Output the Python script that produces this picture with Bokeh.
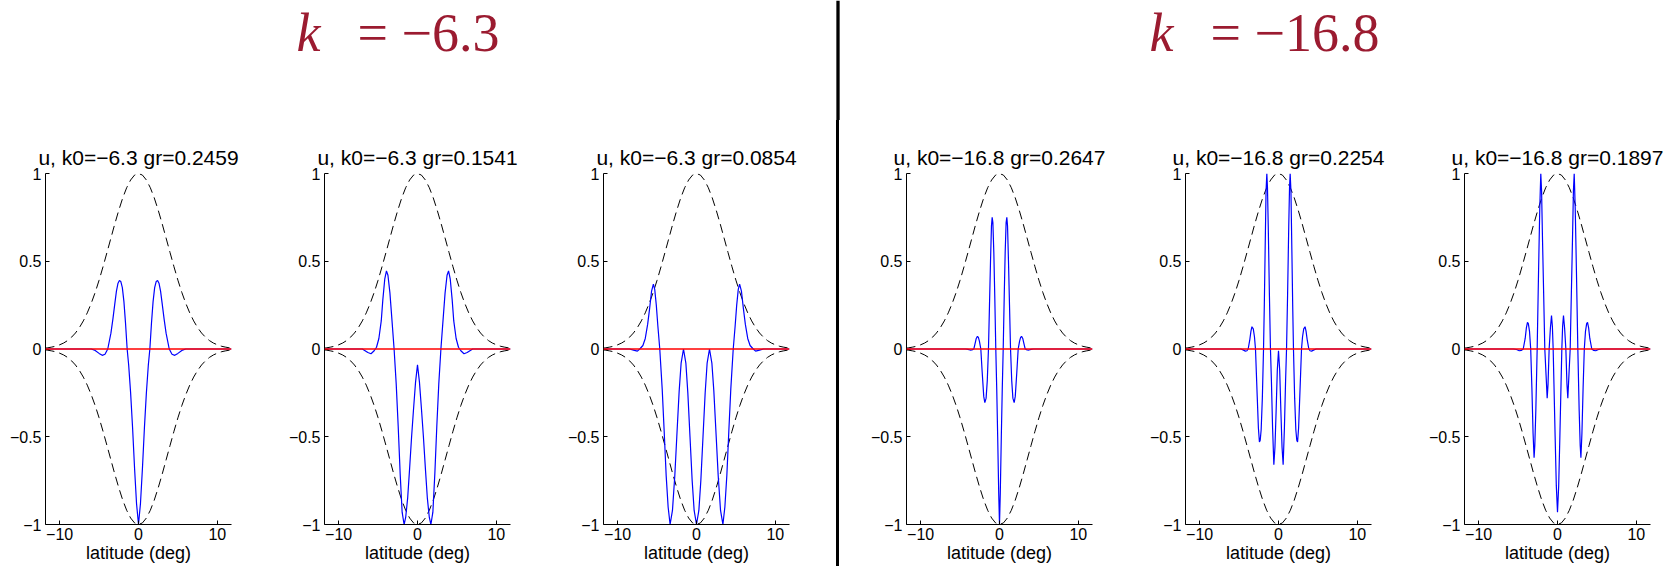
from bokeh.plotting import figure
from bokeh.layouts import row, column
from bokeh.models import (Range1d, Span, FixedTicker, CustomJSTickFormatter,
                          Spacer)
from bokeh.embed import file_html
from bokeh.resources import INLINE
from bokeh.core.properties import value

# ---------------------------------------------------------------------------
# Data: normalised zonal wind u versus latitude (symmetric about the equator,
# so only the northern half, lat >= 0, is stored and mirrored when drawn).
# ---------------------------------------------------------------------------
LAT_MAX = 11.8

# envelope (dashed), |u| bound
env_lat = [0, 0.5, 1, 1.5, 2, 2.5, 3, 3.5, 4, 4.5, 5, 5.5, 6, 6.5, 7, 7.5,
           8, 8.5, 9, 9.5, 10, 10.5, 11, 11.5, 11.8]
env_val = [1.0, 0.991, 0.963, 0.919, 0.861, 0.791, 0.714, 0.632, 0.550, 0.469,
           0.392, 0.322, 0.260, 0.206, 0.160, 0.122, 0.091, 0.067, 0.048,
           0.034, 0.024, 0.016, 0.011, 0.007, 0.005]

# k = -6.3, three modes
k1_titles = ["u, k0=\u22126.3 gr=0.2459", "u, k0=\u22126.3 gr=0.1541",
             "u, k0=\u22126.3 gr=0.0854"]

m1_lat = [0, 0.25, 0.5, 0.75, 1.0, 1.25, 1.44, 1.65, 1.85, 2.05, 2.25, 2.42,
          2.6, 2.8, 3.0, 3.25, 3.5, 3.9, 4.25, 4.6, 5.0, 5.5, 6.0, 11.8]
m1_u = [-1.0, -0.88, -0.68, -0.45, -0.25, -0.09, 0.0, 0.15, 0.27, 0.35, 0.385,
        0.39, 0.375, 0.33, 0.26, 0.17, 0.09, 0.0, -0.03, -0.036, -0.025,
        -0.008, 0.0, 0.0]

m2_lat = [0, 0.25, 0.5, 0.75, 1.0, 1.25, 1.5, 1.7, 1.95, 2.2, 2.45, 2.7, 2.97,
          3.25, 3.5, 3.75, 3.94, 4.15, 4.4, 4.6, 4.9, 5.2, 5.5, 5.9, 6.3, 7.0,
          11.8]
m2_u = [-0.09, -0.19, -0.34, -0.5, -0.68, -0.85, -0.96, -1.0, -0.93, -0.71,
        -0.44, -0.2, 0.0, 0.17, 0.32, 0.42, 0.445, 0.4, 0.28, 0.16, 0.06, 0.01,
        -0.01, -0.027, -0.02, 0.0, 0.0]

m3_lat = [0, 0.3, 0.55, 0.825, 1.1, 1.35, 1.65, 1.95, 2.2, 2.5, 2.75, 3.05,
          3.35, 3.6, 3.85, 4.1, 4.35, 4.66, 4.9, 5.1, 5.3, 5.47, 5.7, 5.95,
          6.2, 6.5, 6.8, 7.2, 7.5, 8.0, 8.5, 11.8]
m3_u = [-1.0, -0.92, -0.75, -0.5, -0.25, -0.08, 0.0, -0.08, -0.24, -0.5,
        -0.72, -0.92, -1.0, -0.9, -0.72, -0.47, -0.23, 0.0, 0.13, 0.25, 0.34,
        0.37, 0.33, 0.23, 0.14, 0.06, 0.02, 0.0, -0.012, -0.006, 0.0, 0.0]

# k = -16.8, three modes
k2_titles = ["u, k0=\u221216.8 gr=0.2647", "u, k0=\u221216.8 gr=0.2254",
             "u, k0=\u221216.8 gr=0.1897"]

m4_lat = [0, 0.1, 0.23, 0.35, 0.47, 0.6, 0.72, 0.84, 0.93, 1.02, 1.14, 1.27,
          1.4, 1.55, 1.7, 1.86, 2.0, 2.2, 2.37, 2.55, 2.68, 2.8, 2.95, 3.1,
          3.26, 3.5, 3.73, 4.0, 4.3, 11.8]
m4_u = [-1.0, -0.82, -0.5, -0.23, 0.0, 0.3, 0.55, 0.72, 0.75, 0.7, 0.5, 0.25,
        0.0, -0.18, -0.28, -0.306, -0.27, -0.13, 0.0, 0.045, 0.066, 0.072,
        0.06, 0.03, 0.0, -0.005, -0.006, -0.002, 0.0, 0.0]

m5_lat = [0, 0.15, 0.3, 0.45, 0.59, 0.75, 0.9, 1.02, 1.15, 1.3, 1.4, 1.48,
          1.58, 1.7, 1.8, 1.9, 2.05, 2.2, 2.32, 2.42, 2.55, 2.7, 2.92, 3.05,
          3.2, 3.37, 3.5, 3.65, 3.85, 4.0, 4.2, 4.5, 4.8, 11.8]
m5_u = [-0.01, -0.12, -0.35, -0.56, -0.66, -0.45, -0.18, 0.0, 0.3, 0.7, 0.92,
        1.0, 0.9, 0.55, 0.25, 0.0, -0.28, -0.46, -0.52, -0.53, -0.45, -0.27,
        0.0, 0.07, 0.115, 0.127, 0.1, 0.05, 0.0, -0.01, -0.012, -0.005, 0.0,
        0.0]

m6_lat = [0, 0.15, 0.3, 0.45, 0.55, 0.65, 0.76, 0.9, 1.06, 1.2, 1.31, 1.45,
          1.61, 1.75, 1.9, 2.02, 2.12, 2.25, 2.4, 2.58, 2.75, 2.88, 2.97, 3.1,
          3.25, 3.4, 3.55, 3.7, 3.81, 3.95, 4.1, 4.35, 4.6, 4.85, 5.2, 5.6,
          11.8]
m6_u = [-0.93, -0.78, -0.5, -0.2, 0.0, 0.13, 0.19, 0.12, 0.0, -0.2, -0.28,
        -0.15, 0.0, 0.3, 0.62, 0.9, 1.0, 0.8, 0.45, 0.0, -0.35, -0.55, -0.62,
        -0.48, -0.22, 0.0, 0.1, 0.145, 0.152, 0.12, 0.06, 0.0, -0.008, -0.01,
        -0.003, 0.0, 0.0]

group_labels = [("k", "= \u22126.3"), ("k", "= \u221216.8")]

x_ticks = [-10, 0, 10]
y_ticks = [-1, -0.5, 0, 0.5, 1]

SANS = "Liberation Sans"
SERIF = "Liberation Serif"
HEAD_RED = "#9B1B30"
BLUE = "#0000FF"
RED = "#FF0000"

HEADER_H = 120
PANEL_H = 446
FRAME_W = 186


def mirror(lat, vals):
    """Extend a northern-hemisphere profile to both hemispheres."""
    xs = [-v for v in reversed(lat)] + list(lat[1:])
    ys = list(reversed(vals)) + list(vals[1:])
    return xs, ys


minus_fmt = CustomJSTickFormatter(code="""
    return tick < 0 ? "\\u2212" + Math.abs(tick) : String(tick);
""")


def panel(title, lat, u, width, left):
    p = figure(width=width, height=PANEL_H, output_backend="svg",
               toolbar_location=None, title=title,
               x_range=Range1d(-LAT_MAX, LAT_MAX), y_range=Range1d(-1, 1),
               min_border_left=left, min_border_right=width - left - FRAME_W,
               min_border_top=53, min_border_bottom=42)
    p.grid.visible = False
    p.outline_line_color = None
    p.background_fill_color = "white"
    p.border_fill_color = "white"

    p.title.align = "center"
    p.title.text_font = SANS
    p.title.text_font_size = "21px"
    p.title.text_font_style = "normal"
    p.title.text_color = "black"
    p.title.standoff = 10

    p.xaxis.ticker = FixedTicker(ticks=x_ticks)
    p.yaxis.ticker = FixedTicker(ticks=y_ticks)
    for ax in (p.xaxis[0], p.yaxis[0]):
        ax.formatter = minus_fmt
        ax.axis_line_color = "black"
        ax.axis_line_width = 1
        ax.major_tick_line_color = "black"
        ax.major_tick_in = 4
        ax.major_tick_out = 0
        ax.minor_tick_line_color = None
        ax.major_label_text_font = SANS
        ax.major_label_text_font_size = "16px"
        ax.major_label_text_color = "black"
        ax.major_label_standoff = 4
    p.xaxis.major_label_standoff = 3
    p.xaxis.axis_label = "latitude (deg)"
    p.xaxis.axis_label_text_font = SANS
    p.xaxis.axis_label_text_font_size = "18px"
    p.xaxis.axis_label_text_font_style = "normal"
    p.xaxis.axis_label_text_color = "black"
    p.xaxis.axis_label_standoff = 0

    ex, ey = mirror(env_lat, env_val)
    p.line(ex, ey, line_color="black", line_width=1, line_dash="9 5")
    p.line(ex, [-v for v in ey], line_color="black", line_width=1,
           line_dash="9 5")

    ux, uy = mirror(lat, u)
    p.line(ux, uy, line_color=BLUE, line_width=1.2)

    p.add_layout(Span(location=0, dimension="width", line_color=RED,
                      line_width=1.3))
    return p


# header strip with the two group labels and the top of the divider
hdr = figure(width=1676, height=HEADER_H, output_backend="svg",
             toolbar_location=None, title_location=None,
             x_range=Range1d(0, 1676), y_range=Range1d(0, HEADER_H),
             min_border=0, min_border_left=0, min_border_right=0,
             min_border_top=0, min_border_bottom=0,
             x_axis_location=None, y_axis_location=None)
hdr.grid.visible = False
hdr.outline_line_color = None
label_k_x = [296, 1149]
label_rest_x = [357, 1210]
label_y = 88
for (kk, rest), xk, xr in zip(group_labels, label_k_x, label_rest_x):
    hdr.text(x=[xk], y=[label_y], text=[kk], text_font=value(SERIF),
             text_font_style="italic", text_font_size="54px",
             text_color=HEAD_RED, text_align="left",
             text_baseline="alphabetic")
    hdr.text(x=[xr], y=[label_y], text=[rest], text_font=value(SERIF),
             text_font_style="normal", text_font_size="54px",
             text_color=HEAD_RED, text_align="left",
             text_baseline="alphabetic")
hdr.add_layout(Span(location=837.5, dimension="height", line_color="black",
                    line_width=3.3))

# thin vertical bar between the two groups of panels
sep = Spacer(width=3, height=PANEL_H,
             styles={"background-color": "black"})

p1 = panel(k1_titles[0], m1_lat, m1_u, 279, 45)
p2 = panel(k1_titles[1], m2_lat, m2_u, 279, 45)
p3 = panel(k1_titles[2], m3_lat, m3_u, 278, 45)
p4 = panel(k2_titles[0], m4_lat, m4_u, 301, 67)
p5 = panel(k2_titles[1], m5_lat, m5_u, 279, 45)
p6 = panel(k2_titles[2], m6_lat, m6_u, 257, 45)

layout = column(hdr, row(p1, p2, p3, sep, p4, p5, p6))

open("out.html", "w").write(file_html(layout, INLINE))
